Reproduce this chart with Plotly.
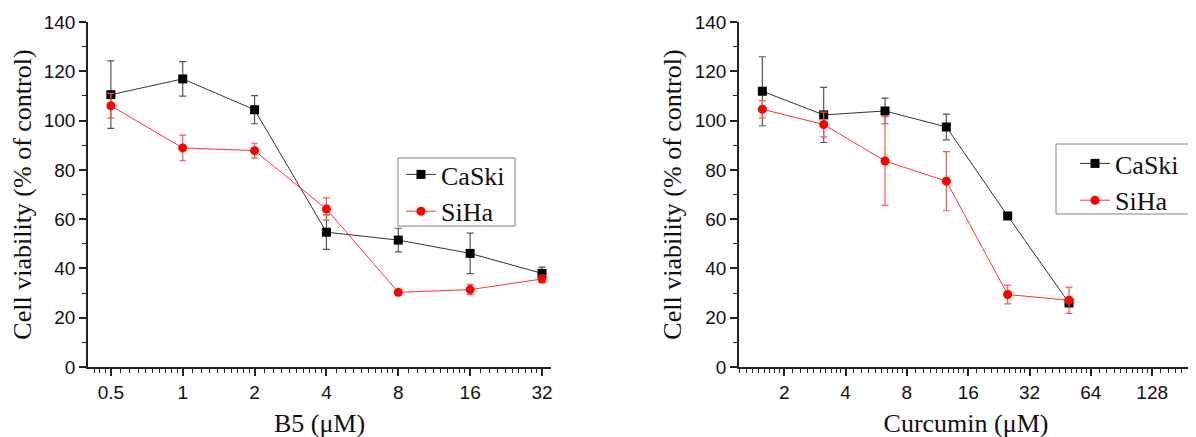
import math
import plotly.graph_objects as go

# ---- Data: B5 panel ----
b5_conc = [0.5, 1, 2, 4, 8, 16, 32]
b5_caski = [110.5, 116.9, 104.4, 54.7, 51.5, 46.1, 38.0]
b5_caski_err = [13.7, 7.0, 5.7, 7.0, 4.8, 8.2, 2.5]
b5_siha = [106.0, 88.9, 87.8, 64.1, 30.3, 31.4, 35.7]
b5_siha_err = [5.0, 5.2, 3.0, 4.5, 1.0, 2.0, 1.5]
b5_ticks = [0.5, 1, 2, 4, 8, 16, 32]

# ---- Data: Curcumin panel ----
cur_conc = [1.5625, 3.125, 6.25, 12.5, 25, 50]
cur_caski = [111.9, 102.3, 103.9, 97.4, 61.3, 26.0]
cur_caski_err = [14.0, 11.2, 5.2, 5.2, 1.0, 1.5]
cur_siha = [104.6, 98.4, 83.6, 75.4, 29.4, 27.1]
cur_siha_err = [3.5, 5.0, 18.0, 12.0, 3.8, 5.3]
cur_ticks = [2, 4, 8, 16, 32, 64, 128]

BLACK = "#000000"
RED = "#ff0000"
SERIF = "Liberation Serif, Times New Roman, serif"
SANS = "Liberation Sans, Arial, sans-serif"

W, H = 1196, 437
OFF = 8  # page body margin
PT, PB = 22, 367  # plot area top / bottom in screen px


def px(sx):
    return (sx - OFF) / W


def py(sy):
    return (PB - sy) / (PB - PT)


def minor_vals(lo, hi):
    vals = []
    base = 0.125
    while base < hi * 2:
        for k in range(1, 10):
            v = base * (1 + k / 10)
            if lo <= v <= hi:
                vals.append(v)
        base *= 2
    return vals


fig = go.Figure()


def add_series(x, y, err, name, color, line_color, err_color, symbol, xa, ya, legend):
    fig.add_trace(go.Scatter(
        x=x, y=y, name=name, mode="lines+markers",
        line=dict(color=line_color, width=1),
        marker=dict(color=color, symbol=symbol, size=9),
        error_y=dict(type="data", array=err, visible=True, color=err_color,
                     thickness=1.2, width=3.5),
        xaxis=xa, yaxis=ya, legend=legend,
    ))


add_series(b5_conc, b5_caski, b5_caski_err, "CaSki", BLACK, "#333333", "#555555",
           "square", "x", "y", "legend")
add_series(b5_conc, b5_siha, b5_siha_err, "SiHa", RED, "#ff3333", "#ff5555",
           "circle", "x", "y", "legend")
add_series(cur_conc, cur_caski, cur_caski_err, "CaSki", BLACK, "#333333", "#555555",
           "square", "x2", "y2", "legend2")
add_series(cur_conc, cur_siha, cur_siha_err, "SiHa", RED, "#ff3333", "#ff5555",
           "circle", "x2", "y2", "legend2")

left_rng = (0.401, 34.9)
right_rng = (1.2, 203)

axis_common = dict(
    showline=True, linecolor="#222222", linewidth=1.5,
    ticks="outside", ticklen=7, tickwidth=1.5, tickcolor="#222222",
    showgrid=False, zeroline=False, automargin=False,
    tickfont=dict(family=SANS, size=19, color="#111111"),
)
minor_common = dict(ticks="outside", ticklen=4, tickwidth=1.2, tickcolor="#222222")
title_font = dict(family=SERIF, size=26, color="#111111")
legend_common = dict(
    xanchor="left", yanchor="top", borderwidth=0, bgcolor="rgba(0,0,0,0)",
    font=dict(family=SERIF, size=26, color="#111111"),
    tracegroupgap=0, itemwidth=30,
)

fig.update_layout(
    width=W, height=H,
    margin=dict(l=0, r=0, t=PT - OFF, b=H + OFF - PB),
    paper_bgcolor="white", plot_bgcolor="white",
    xaxis=dict(
        **axis_common, type="log", domain=[px(88), px(551)],
        range=[math.log10(left_rng[0]), math.log10(left_rng[1])],
        tickmode="array", tickvals=b5_ticks, ticktext=[str(t) for t in b5_ticks],
        minor=dict(**minor_common, tickmode="array", tickvals=minor_vals(*left_rng)),
        title=dict(text="B5 (\u03bcM)", font=title_font, standoff=12),
        anchor="y",
    ),
    yaxis=dict(
        **axis_common, range=[0, 140], dtick=20, anchor="x",
        minor=dict(**minor_common, dtick=10),
        title=dict(text="Cell viability (% of control)", font=title_font, standoff=8),
    ),
    xaxis2=dict(
        **axis_common, type="log", domain=[px(739), px(1193)],
        range=[math.log10(right_rng[0]), math.log10(right_rng[1])],
        tickmode="array", tickvals=cur_ticks, ticktext=[str(t) for t in cur_ticks],
        minor=dict(**minor_common, tickmode="array", tickvals=minor_vals(*right_rng)),
        title=dict(text="Curcumin (\u03bcM)", font=title_font, standoff=12),
        anchor="y2",
    ),
    yaxis2=dict(
        **axis_common, range=[0, 140], dtick=20, anchor="x2",
        minor=dict(**minor_common, dtick=10),
        title=dict(text="Cell viability (% of control)", font=title_font, standoff=6),
    ),
    legend=dict(x=px(401), y=py(151), **legend_common),
    legend2=dict(x=px(1075), y=py(140), **legend_common),
    shapes=[
        dict(type="rect", xref="paper", yref="paper",
             x0=px(398), x1=px(515), y0=py(226), y1=py(158),
             line=dict(color="#808080", width=1), fillcolor="rgba(255,255,255,0)",
             layer="below"),
        dict(type="rect", xref="paper", yref="paper",
             x0=px(1056), x1=px(1195), y0=py(214), y1=py(144),
             line=dict(color="#808080", width=1), fillcolor="rgba(255,255,255,0)",
             layer="below"),
    ],
)

fig.write_html("out.html")
